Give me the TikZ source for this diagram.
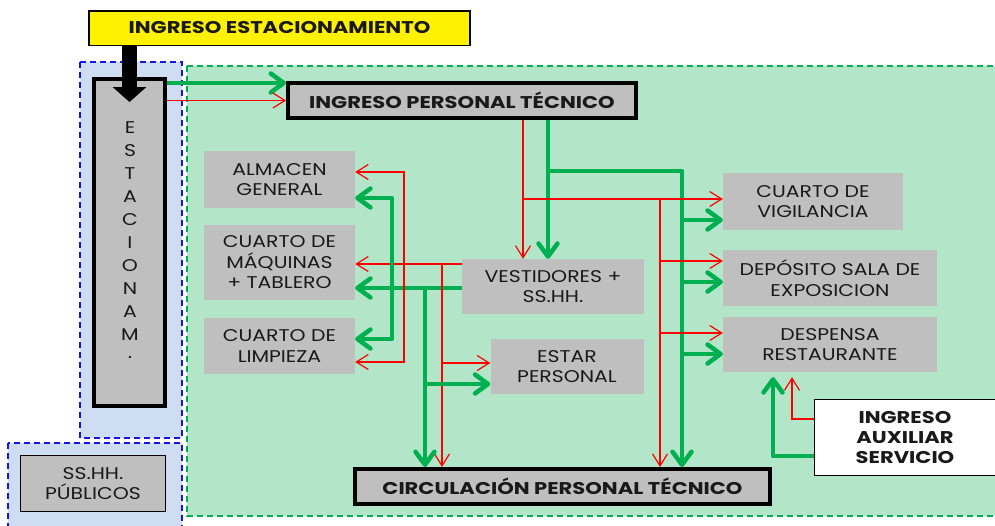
\documentclass[tikz,border=0pt]{standalone}
\usepackage{fontspec}
\setmainfont{Poppins}
\newfontfamily\lblfont{Poppins}[FakeStretch=1.2]
\newfontfamily\hdfont{Poppins}[FakeStretch=1.24]
\usetikzlibrary{positioning,arrows.meta,calc}

\definecolor{lgreen}{HTML}{00B050}
\definecolor{zonegreen}{HTML}{B3E5C8}
\definecolor{zoneblue}{HTML}{CFDDF3}
\definecolor{boxgray}{HTML}{BFBFBF}
\definecolor{dashblue}{HTML}{1414E6}

\tikzset{
  rtip/.tip={Straight Barb[length=12pt,width=15pt]},
  gtip/.tip={Straight Barb[length=13pt,width=19pt,round]},
  rline/.style={draw=red, line width=1.2pt, -rtip},
  gline/.style={draw=lgreen, line width=4.5pt, line join=round, -gtip},
  bigarr/.style={draw=black, line width=15pt, -{Triangle[length=15pt,width=33pt]}},
  zoneb/.style={fill=zoneblue, draw=dashblue, line width=1.6pt, dash pattern=on 6pt off 4pt},
  zoneg/.style={fill=zonegreen, draw=lgreen, line width=1.6pt, dash pattern=on 6pt off 4pt},
  room/.style={fill=boxgray, inner sep=0pt, align=center,
    font=\lblfont\fontsize{17}{20.5}\selectfont},
  hdbox/.style={fill=boxgray, draw=black, line width=4pt, inner sep=0pt,
    font=\hdfont\bfseries\fontsize{17}{20}\selectfont},
}

\begin{document}
\begin{tikzpicture}[x=1pt,y=-1pt, every node/.style={text=black!90}]
\useasboundingbox (0,0) rectangle (995,525);
% zonas
\draw[zoneb] (80,62) rectangle (182,438);
\draw[zoneb] (8,443) rectangle (182,540);
\draw[zoneg] (187,66) rectangle (1010,516);

% recintos
\node[fill=yellow, draw=black, line width=1.5pt, minimum width=381pt, minimum height=34.5pt,
  inner sep=0pt, font=\hdfont\bfseries\fontsize{17}{20}\selectfont] (ingest) at (279.5,28) {INGRESO ESTACIONAMIENTO};
\node[hdbox, minimum width=71pt, minimum height=327pt] (estac) at (129.5,242.5) {};
\foreach \l [count=\i] in {E,S,T,A,C,I,O,N,A,M,.}
  \node[font=\lblfont\fontsize{17}{17}\selectfont, inner sep=0pt] (est\i) at (130,{128+(\i-1)*23}) {\l};
\node[room, draw=black, line width=1.5pt, minimum width=145pt, minimum height=56pt] (sshh) at (93,483.5) {SS.HH.\\PÚBLICOS};

\node[hdbox, minimum width=348pt, minimum height=35pt] (ipt) at (462,100.5) {INGRESO PERSONAL TÉCNICO};
\node[hdbox, minimum width=415pt, minimum height=35pt] (cpt) at (562.5,486.5) {CIRCULACIÓN PERSONAL TÉCNICO};

\node[room, minimum width=151pt, minimum height=57pt] (alm) at (279.5,179.5) {ALMACEN\\GENERAL};
\node[room, minimum width=151pt, minimum height=75pt] (maq) at (279.5,262.5) {CUARTO DE\\MÁQUINAS\\+ TABLERO};
\node[room, minimum width=151pt, minimum height=56pt] (lim) at (279.5,346) {CUARTO DE\\LIMPIEZA};
\node[room, minimum width=182pt, minimum height=55pt] (vest) at (553,286.5) {VESTIDORES +\\SS.HH.};
\node[room, minimum width=153pt, minimum height=55pt] (estar) at (567,366.5) {ESTAR\\PERSONAL};
\node[room, minimum width=180pt, minimum height=57pt] (vig) at (813,201.5) {CUARTO DE\\VIGILANCIA};
\node[room, minimum width=214pt, minimum height=56pt] (dep) at (830,278) {DEPÓSITO SALA DE\\EXPOSICION};
\node[room, minimum width=214pt, minimum height=55pt] (desp) at (830,344.5) {DESPENSA\\RESTAURANTE};
\node[fill=white, draw=black, line width=1.5pt, minimum width=181pt, minimum height=76pt, inner sep=0pt,
  align=center, font=\hdfont\bfseries\fontsize{17}{20}\selectfont] (aux) at (905,437.5) {INGRESO\\AUXILIAR\\SERVICIO};

% carriles
\coordinate (xRin) at (523,0);  \coordinate (xGin) at (548,0);
\coordinate (xRr) at (660,0);   \coordinate (xGr) at (682,0);
\coordinate (xRl) at (404,0);   \coordinate (xGl) at (392,0);
\coordinate (xRm) at (442,0);   \coordinate (xGm) at (425,0);
\coordinate (xGaux) at (773,0); \coordinate (xRaux) at (792,0);
\coordinate (yGtop) at (0,83);  \coordinate (bigtip) at (129.5,102);
\coordinate (yGbr) at (0,171);  \coordinate (yRbr) at (0,199);
\coordinate (yGvig) at (0,220); \coordinate (yRdep) at (0,261);
\coordinate (yGdep) at (0,282); \coordinate (yRdesp) at (0,333);
\coordinate (yGdesp) at (0,354);
\coordinate (yRve) at (0,264);  \coordinate (yGve) at (0,288);
\coordinate (yRalm) at (0,172); \coordinate (yGalm) at (0,198);
\coordinate (yGlim) at (0,339); \coordinate (yRlim) at (0,362);
\coordinate (yRest) at (0,363); \coordinate (yGest) at (0,384);
\coordinate (yRaux) at (0,419); \coordinate (yGaux) at (0,456);

% ingreso
\draw[bigarr] (ingest.south -| bigtip) -- (bigtip);
\draw[gline] (estac.east |- yGtop) -- (ipt.west |- yGtop);
\draw[rline] (estac.east |- ipt.west) -- (ipt.west);

% desde ingreso personal
\draw[rline] (ipt.south -| xRin) -- (vest.north -| xRin);
\draw[gline] (ipt.south -| xGin) -- (vest.north -| xGin);
\draw[gline] (xGin |- yGbr) -| (cpt.north -| xGr);
\draw[rline] (xRin |- yRbr) -- (vig.west |- yRbr);
\draw[rline] (xRr |- yRbr) -- (cpt.north -| xRr);
\draw[gline] (xGr |- yGvig) -- (vig.west |- yGvig);
\draw[rline] (xRr |- yRdep) -- (dep.west |- yRdep);
\draw[gline] (xGr |- yGdep) -- (dep.west |- yGdep);
\draw[rline] (xRr |- yRdesp) -- (desp.west |- yRdesp);
\draw[gline] (xGr |- yGdesp) -- (desp.west |- yGdesp);

% desde vestidores
\draw[rline] (vest.west |- yRve) -- (maq.east |- yRve);
\draw[gline] (vest.west |- yGve) -- (maq.east |- yGve);
\draw[rline, rtip-rtip] (alm.east |- yRalm) -| (xRl |- yRlim) -- (lim.east |- yRlim);
\draw[gline, gtip-gtip] (alm.east |- yGalm) -| (xGl |- yGlim) -- (lim.east |- yGlim);
\draw[rline] (xRm |- yRve) -- (cpt.north -| xRm);
\draw[rline] (xRm |- yRest) -- (estar.west |- yRest);
\draw[gline] (xGm |- yGve) -- (cpt.north -| xGm);
\draw[gline] (xGm |- yGest) -- (estar.west |- yGest);

% ingreso auxiliar
\draw[gline] (aux.west |- yGaux) -| ([yshift=-5pt]desp.south -| xGaux);
\draw[rline] (aux.west |- yRaux) -| ([yshift=-5pt]desp.south -| xRaux);
\end{tikzpicture}
\end{document}
